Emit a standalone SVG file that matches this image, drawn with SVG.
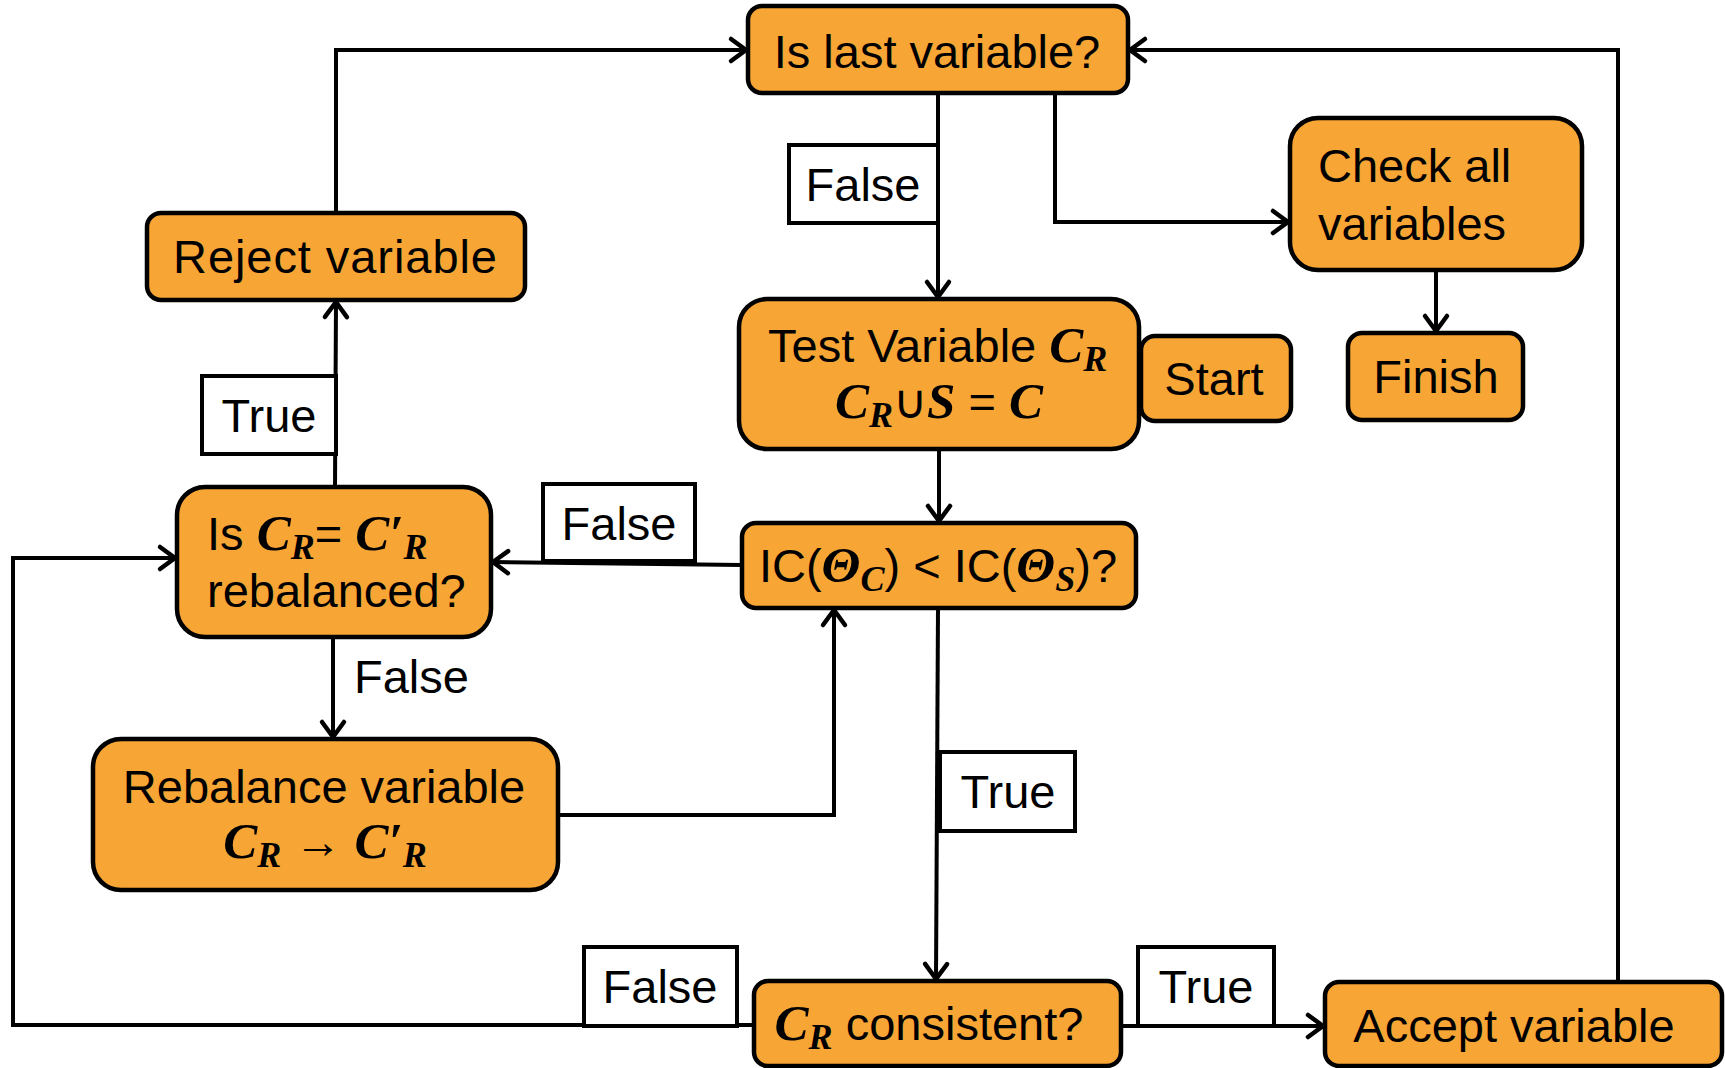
<svg xmlns="http://www.w3.org/2000/svg" width="1725" height="1068" viewBox="0 0 1725 1068">
<style>
.node{fill:#F7A535;stroke:#000;stroke-width:4.5}
.lbl{fill:#fff;stroke:#000;stroke-width:4}
text{font-family:"Liberation Sans",Arial,sans-serif;font-size:47px;fill:#000}
.c{text-anchor:middle}
.m{font-family:"Liberation Serif","Times New Roman",serif;font-weight:bold;font-style:italic;font-size:51px}
.s{font-size:36px}
.conn path{fill:none;stroke:#000;stroke-width:4;marker-end:url(#arr)}
</style>
<defs>
<marker id="arr" viewBox="-20 -15 24 30" refX="0" refY="0" markerWidth="24" markerHeight="30" markerUnits="userSpaceOnUse" orient="auto">
<path d="M-15,-11 L0,0 L-15,11" fill="none" stroke="#000" stroke-width="4.5" stroke-linecap="round" stroke-linejoin="miter"/>
</marker>
</defs>
<rect width="1725" height="1068" fill="#fff"/>
<g class="conn">
<path d="M336,213 V50 H746"/>
<path d="M1618,982 V50 H1130"/>
<path d="M938,93 V297"/>
<path d="M1055,93 V222 H1288"/>
<path d="M1436,270 V331"/>
<path d="M939,449 V521"/>
<path d="M742,565 L493,562"/>
<path d="M335,487 L336,302"/>
<path d="M333,637 V737"/>
<path d="M558,815 H834 V610"/>
<path d="M938,608 L936,979"/>
<path d="M754,1025 H13 V558 H175"/>
<path d="M1121,1026 H1323"/>
</g>
<g id="lbl-false1"><rect class="lbl" x="789" y="145" width="149" height="78"/><text class="c" x="863" y="201">False</text></g>
<g id="lbl-true1"><rect class="lbl" x="202" y="376" width="134" height="78"/><text class="c" x="269" y="432">True</text></g>
<g id="lbl-false2"><rect class="lbl" x="543" y="484" width="152" height="77"/><text class="c" x="619" y="540">False</text></g>
<g id="lbl-false3"><text x="354" y="693">False</text></g>
<g id="lbl-true2"><rect class="lbl" x="940" y="752" width="135" height="79"/><text class="c" x="1008" y="808">True</text></g>
<g id="lbl-false4"><rect class="lbl" x="584" y="947" width="153" height="79"/><text class="c" x="660" y="1003">False</text></g>
<g id="lbl-true3"><rect class="lbl" x="1138" y="947" width="136" height="79"/><text class="c" x="1206" y="1003">True</text></g>
<g id="n-islast"><rect class="node" x="748" y="6" width="380" height="87" rx="14"/><text class="c" x="937" y="68">Is last variable?</text></g>
<g id="n-check"><rect class="node" x="1290" y="118" width="292" height="152" rx="28"/><text x="1318" y="182">Check all</text><text x="1318" y="240">variables</text></g>
<g id="n-reject"><rect class="node" x="147" y="213" width="378" height="87" rx="14"/><text class="c" x="335" y="273" textLength="324">Reject variable</text></g>
<g id="n-test"><rect class="node" x="739" y="299" width="400" height="150" rx="28"/>
<text x="768" y="362">Test Variable <tspan class="m">C</tspan><tspan class="m s" dy="9">R</tspan></text>
<text x="835" y="418"><tspan class="m">C</tspan><tspan class="m s" dy="9">R</tspan><tspan dy="-9">∪</tspan><tspan class="m">S</tspan> = <tspan class="m">C</tspan></text>
</g>
<g id="n-start"><rect class="node" x="1141" y="336" width="150" height="85" rx="14"/><text class="c" x="1214" y="395">Start</text></g>
<g id="n-finish"><rect class="node" x="1348" y="333" width="175" height="87" rx="14"/><text class="c" x="1436" y="393">Finish</text></g>
<g id="n-iscr"><rect class="node" x="177" y="487" width="314" height="150" rx="28"/>
<text x="207" y="550">Is <tspan class="m">C</tspan><tspan class="m s" dy="9">R</tspan><tspan dy="-9">= </tspan><tspan class="m">C′</tspan><tspan class="m s" dy="9">R</tspan></text>
<text x="207" y="607">rebalanced?</text>
</g>
<g id="n-ic"><rect class="node" x="742" y="523" width="394" height="85" rx="14"/>
<text class="c" x="938" y="582">IC(<tspan class="m">Θ</tspan><tspan class="m s" dy="9">C</tspan><tspan dy="-9">) &lt; IC(</tspan><tspan class="m">Θ</tspan><tspan class="m s" dy="9">S</tspan><tspan dy="-9">)?</tspan></text>
</g>
<g id="n-rebalance"><rect class="node" x="93" y="739" width="465" height="151" rx="28"/>
<text class="c" x="324" y="803">Rebalance variable</text>
<text class="c" x="325" y="858"><tspan class="m">C</tspan><tspan class="m s" dy="9">R</tspan><tspan dy="-9">  → </tspan><tspan class="m">C′</tspan><tspan class="m s" dy="9">R</tspan></text>
</g>
<g id="n-consistent"><rect class="node" x="754" y="981" width="367" height="85" rx="14"/>
<text class="c" x="929" y="1040"><tspan class="m">C</tspan><tspan class="m s" dy="9">R</tspan><tspan dy="-9"> consistent?</tspan></text>
</g>
<g id="n-accept"><rect class="node" x="1325" y="982" width="397" height="84" rx="14"/><text class="c" x="1514" y="1042">Accept variable</text></g>
</svg>
